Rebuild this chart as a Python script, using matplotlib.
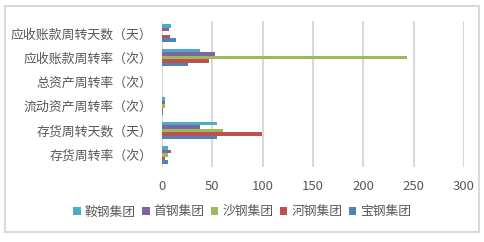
import matplotlib
matplotlib.use("Agg")
import matplotlib.pyplot as plt
from matplotlib.patches import Rectangle
import numpy as np

plt.rcParams['font.family'] = ['Noto Sans CJK SC', 'DejaVu Sans']

categories = ["存货周转率（次）", "存货周转天数（天）", "流动资产周转率（次）",
              "总资产周转率（次）", "应收账款周转率（次）", "应收账款周转天数（天）"]
series_names = ["宝钢集团", "河钢集团", "沙钢集团", "首钢集团", "鞍钢集团"]
baogang = [5.6, 54.4, 1.3, 0.0, 25.5, 13.6]
hegang = [2.6, 99.1, 1.3, 0.0, 46.4, 7.6]
shagang = [5.6, 60.3, 2.6, 0.0, 243.0, 0.0]
shougang = [8.6, 37.5, 2.6, 0.0, 52.4, 6.6]
angang = [5.6, 54.4, 2.6, 0.0, 37.5, 8.6]
series_values = [baogang, hegang, shagang, shougang, angang]
colors = ["#4F81BD", "#C0504D", "#9BBB59", "#8064A2", "#4BACC6"]
xticks = [0, 50, 100, 150, 200, 250, 300]

W, H = 484, 242
fig = plt.figure(figsize=(W / 100, H / 100), dpi=100)
fig.patch.set_facecolor("white")

# outer border
fig.patches.append(Rectangle((4.5 / W, 1 - 232 / H), (479 - 4.5) / W, (232 - 5.5) / H,
                             transform=fig.transFigure, fill=False,
                             edgecolor="#d9d9d9", linewidth=1.5))

left, right, top, bottom = 162, 464, 21, 167
ax = fig.add_axes([left / W, 1 - bottom / H, (right - left) / W, (bottom - top) / H])

n = len(series_names)
bh = 0.145
y = np.arange(len(categories))
for i, (name, vals, c) in enumerate(zip(series_names, series_values, colors)):
    offs = (i - (n - 1) / 2) * bh
    ax.barh(y + offs, vals, height=bh, color=c, label=name, zorder=3)

ax.set_xlim(0, 300)
ax.set_ylim(-0.5, len(categories) - 0.5)
ax.set_xticks(xticks)
ax.set_xticklabels([str(t) for t in xticks])
ax.set_yticks(y)
ax.set_yticklabels(categories)
ax.grid(axis="x", color="#d9d9d9", linewidth=1.5, zorder=0)
for s in ax.spines.values():
    s.set_visible(False)
ax.tick_params(axis="both", length=0, colors="#595959")
ax.tick_params(axis="x", pad=9, labelsize=9.5)
ax.tick_params(axis="y", pad=7, labelsize=9.3)

handles, labels = ax.get_legend_handles_labels()
leg = fig.legend(handles[::-1], labels[::-1], loc="center", bbox_to_anchor=(242 / W, 1 - 212 / H),
                 ncol=5, frameon=False, fontsize=9.2, handlelength=0.6, handleheight=0.6,
                 handletextpad=0.3, columnspacing=0.5, labelcolor="#595959")

fig.savefig("out.png", dpi=100, facecolor="white")
